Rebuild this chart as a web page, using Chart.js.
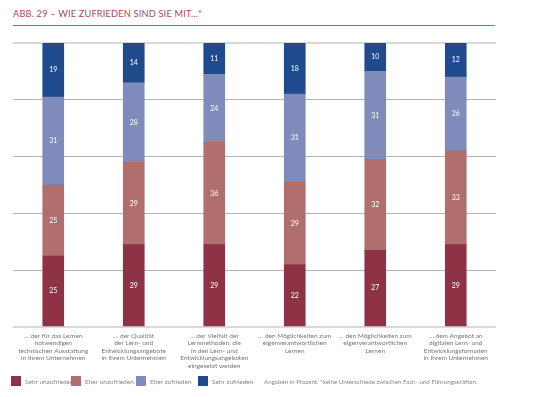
<!DOCTYPE html>
<html lang="de">
<head>
<meta charset="utf-8">
<script src="https://cdn.jsdelivr.net/npm/chart.js@4/dist/chart.umd.min.js"></script>
<style>
  html, body { margin: 0; padding: 0; background: #fff; }
  body { width: 544px; height: 397px; position: relative; overflow: hidden; font-family: "Lato", "Noto Sans", sans-serif; }
  #title { position: absolute; left: 13px; top: 8px; font-size: 9.2px; letter-spacing: 0.2px; color: #a9485c; }
  #rule { position: absolute; left: 13px; top: 25px; width: 482px; height: 1px; background: #b65c6c; }
  #wrap { position: absolute; left: 0; top: 0; width: 544px; height: 397px; }
  #legend { position: absolute; left: 0; top: 376px; width: 544px; height: 12px; font-size: 6.5px; color: #888; }
  #legend .it { position: absolute; top: 0; display: flex; align-items: center; height: 10px; white-space: nowrap; }
  #legend .note { font-size: 6.2px; }
  #legend .sw { width: 10px; height: 10px; display: inline-block; margin-right: 4px; }
</style>
</head>
<body>
<div id="title">ABB. 29 – WIE ZUFRIEDEN SIND SIE MIT…*</div>
<div id="rule"></div>
<div id="wrap"><canvas id="ch" width="544" height="397"></canvas></div>
<div id="legend"></div>
<script>
const categories = [
  ["… der für das Lernen", "notwendigen", "technischen Ausstattung", "in Ihrem Unternehmen"],
  ["… der Qualität", "der Lern- und", "Entwicklungsangebote", "in Ihrem Unternehmen"],
  ["… der Vielfalt der", "Lernmethoden, die", "in den Lern- und", "Entwicklungsangeboten", "eingesetzt werden"],
  ["… den Möglichkeiten zum", "eigenverantwortlichen", "Lernen"],
  ["… den Möglichkeiten zum", "eigenverantwortlichen", "Lernen"],
  ["… dem Angebot an", "digitalen Lern- und", "Entwicklungsformaten", "in Ihrem Unternehmen"],
];
const seriesNames = ["Sehr unzufrieden", "Eher unzufrieden", "Eher zufrieden", "Sehr zufrieden"];
const sehrUnzufrieden = [25, 29, 29, 22, 27, 29];
const eherUnzufrieden = [25, 29, 36, 29, 32, 33];
const eherZufrieden = [31, 28, 24, 31, 31, 26];
const sehrZufrieden = [19, 14, 11, 18, 10, 12];
const colors = ["#8e3345", "#b06e6d", "#7e8bbb", "#1f4a8c"];
const note = "Angaben in Prozent. *keine Unterschiede zwischen Fach- und Führungskräften.";

const series = [sehrUnzufrieden, eherUnzufrieden, eherZufrieden, sehrZufrieden];

// Legende unten, Positionen wie in der Vorlage
const legendX = [11, 71, 136, 198];
document.getElementById("legend").innerHTML = seriesNames.map((n, i) =>
  `<span class="it" style="left:${legendX[i]}px"><span class="sw" style="background:${colors[i]}"></span>${n}</span>`).join("") +
  `<span class="it note" style="left:264px">${note}</span>`;

// Werte mittig in die Segmente schreiben
const valueLabels = {
  id: "valueLabels",
  afterDatasetsDraw(chart) {
    const c = chart.ctx;
    c.save();
    c.fillStyle = "#fff";
    c.font = "7px Lato, 'Noto Sans', sans-serif";
    c.textAlign = "center";
    c.textBaseline = "middle";
    chart.data.datasets.forEach((ds, i) => {
      chart.getDatasetMeta(i).data.forEach((el, j) => {
        c.fillText(ds.data[j], el.x, (el.y + el.base) / 2);
      });
    });
    c.restore();
  },
};

new Chart(document.getElementById("ch"), {
  type: "bar",
  data: {
    labels: categories,
    datasets: series.map((d, i) => ({
      label: seriesNames[i], data: d, backgroundColor: colors[i],
      barThickness: 21, borderWidth: 0,
    })),
  },
  options: {
    responsive: false,
    animation: false,
    layout: { padding: { top: 43, left: 13, right: 48, bottom: 0 } },
    plugins: { legend: { display: false }, tooltip: { enabled: false } },
    scales: {
      x: {
        stacked: true,
        grid: { display: false, tickLength: 0 },
        border: { display: false },
        ticks: { color: "#777", font: { family: "Lato", size: 6.5, lineHeight: 1.15 }, padding: 5, maxRotation: 0, autoSkip: false },
        afterFit: (s) => { s.height = 70; },
      },
      y: {
        stacked: true, min: 0, max: 100,
        ticks: { display: false, stepSize: 20 },
        border: { display: false },
        grid: {
          drawTicks: false,
          color: (ctx) => (ctx.tick.value === 0 || ctx.tick.value === 100) ? "#d9d9d9" : "#b3b3b3",
          lineWidth: (ctx) => (ctx.tick.value === 0 || ctx.tick.value === 100) ? 2 : 1,
        },
        afterFit: (s) => { s.width = 0; },
      },
    },
  },
  plugins: [valueLabels],
});
</script>
</body>
</html>
